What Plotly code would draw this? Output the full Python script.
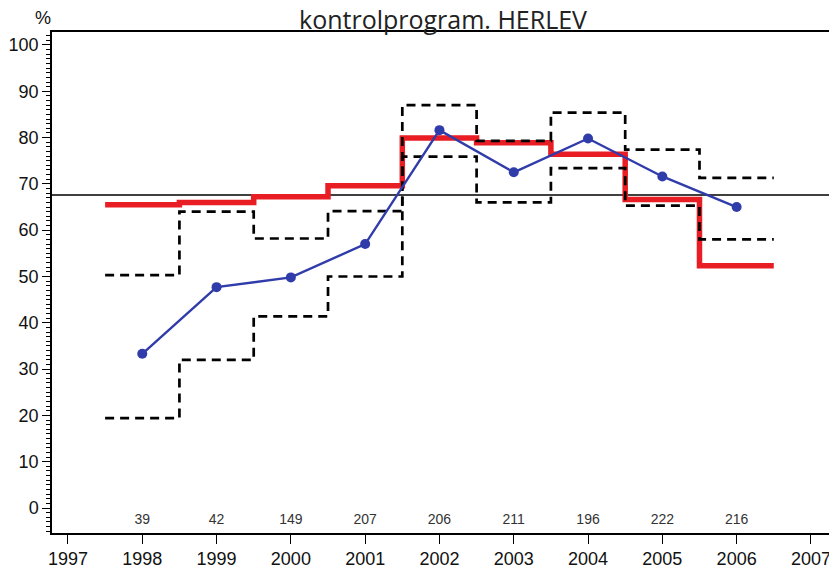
import plotly.graph_objects as go

# data
years = [1998, 1999, 2000, 2001, 2002, 2003, 2004, 2005, 2006]
observed = [33.3, 47.7, 49.8, 57.0, 81.6, 72.5, 79.8, 71.6, 65.0]
expected = [65.5, 66.0, 67.2, 69.6, 79.9, 78.9, 76.4, 66.6, 52.3]
upper = [50.3, 64.0, 58.2, 64.1, 87.0, 79.3, 85.4, 77.4, 71.3]
lower = [19.4, 32.0, 41.4, 50.0, 75.9, 66.0, 73.4, 65.3, 58.0]
counts = [39, 42, 149, 207, 206, 211, 196, 222, 216]
reference = 67.6
x_ticks = list(range(1997, 2008))
y_ticks = list(range(0, 101, 10))

tick_font = dict(family="Liberation Sans, Arial, sans-serif", size=18, color="#111")


def steps(vals):
    # step edges half a year either side of each year
    xs = [y - 0.5 for y in years] + [years[-1] + 0.5]
    ys = vals + [vals[-1]]
    return xs, ys


fig = go.Figure()

fig.add_shape(type="line", xref="paper", x0=0, x1=1, yref="y",
              y0=reference, y1=reference,
              line=dict(color="black", width=1.5), layer="below")

ex, ey = steps(expected)
fig.add_trace(go.Scatter(x=ex, y=ey, mode="lines", line_shape="hv",
                         line=dict(color="rgb(232,30,36)", width=5.5)))

for band in (upper, lower):
    bx, by = steps(band)
    fig.add_trace(go.Scatter(x=bx, y=by, mode="lines", line_shape="hv",
                             line=dict(color="black", width=2.7, dash="9px,6px")))

fig.add_trace(go.Scatter(x=years, y=observed, mode="lines+markers",
                         line=dict(color="rgb(48,60,170)", width=2.4),
                         marker=dict(color="rgb(48,60,170)", size=10)))

fig.add_trace(go.Scatter(x=years, y=[-2.6] * len(years), mode="text",
                         text=[str(c) for c in counts],
                         textfont=dict(family="Liberation Sans Narrow, Liberation Sans, Arial",
                                       size=14, color="#333")))

fig.update_xaxes(range=[1996.785, 2007.297], tickvals=x_ticks,
                 ticktext=[str(t) for t in x_ticks],
                 ticks="outside", ticklen=9, tickwidth=1.2, tickcolor="black",
                 showline=True, linecolor="black", linewidth=1.5, mirror=True,
                 showgrid=False, zeroline=False, automargin=False,
                 tickfont=tick_font)
fig.update_yaxes(range=[-5.4, 102.8], tickvals=y_ticks,
                 ticks="outside", ticklen=8, tickwidth=1.2, tickcolor="black",
                 minor=dict(dtick=1, ticks="outside", ticklen=4, tickcolor="black"),
                 showline=True, linecolor="black", linewidth=1.5, mirror=True,
                 showgrid=False, zeroline=False, automargin=False,
                 tickfont=tick_font)

fig.add_annotation(text="kontrolprogram. HERLEV", xref="paper", yref="paper",
                   x=0.5, y=1, yshift=13, showarrow=False, yanchor="middle",
                   font=dict(family="Open Sans, sans-serif", size=25, color="#222"))
fig.add_annotation(text="%", xref="paper", yref="paper", x=0, xshift=-19,
                   y=1, yshift=14, showarrow=False, yanchor="middle",
                   font=tick_font)

# the page body adds an 8px offset, so margins are shifted to compensate
fig.update_layout(width=837, height=571, showlegend=False,
                  margin=dict(l=44, r=12, t=24, b=46),
                  plot_bgcolor="white", paper_bgcolor="white")

fig.write_html("out.html")
